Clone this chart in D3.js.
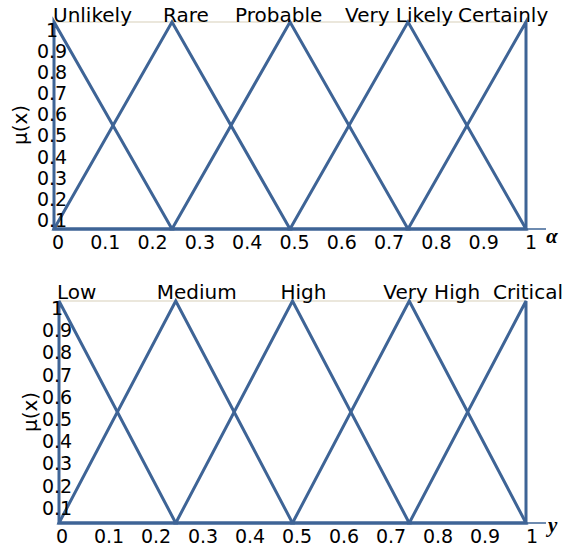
<!DOCTYPE html>
<html>
<head>
<meta charset="utf-8">
<script src="https://cdn.jsdelivr.net/npm/d3@7"></script>
<style>
  html, body { margin: 0; padding: 0; background: #fff; }
  svg { display: block; }
  text { font-family: "DejaVu Sans", sans-serif; fill: #000; }
</style>
</head>
<body>
<svg id="chart" width="566" height="546"></svg>
<script>
// Membership grades and tick labels
const xTicks = [0, 0.1, 0.2, 0.3, 0.4, 0.5, 0.6, 0.7, 0.8, 0.9, 1];
const yTicks = [0.1, 0.2, 0.3, 0.4, 0.5, 0.6, 0.7, 0.8, 0.9, 1];

// Linguistic terms for the likelihood variable (alpha)
const alphaTerms = ["Unlikely", "Rare", "Probable", "Very Likely", "Certainly"];
// Linguistic terms for the severity variable (y)
const severityTerms = ["Low", "Medium", "High", "Very High", "Critical"];

// Triangular membership functions: [left foot, peak, right foot]
const alphaSets = [[0, 0, 0.25], [0, 0.25, 0.5], [0.25, 0.5, 0.75], [0.5, 0.75, 1], [0.75, 1, 1]];
const severitySets = [[0, 0, 0.25], [0, 0.25, 0.5], [0.25, 0.5, 0.75], [0.5, 0.75, 1], [0.75, 1, 1]];

const svg = d3.select("#chart");
const LINE = "#3e6496";

function drawPanel(cfg) {
  const g = svg.append("g");
  const x = d3.scaleLinear().domain([0, 1]).range(cfg.xRange);
  const y = d3.scaleLinear().domain([0, 1]).range(cfg.yRange);
  const xLab = d3.scaleLinear().domain([0, 1]).range(cfg.xLabRange);
  const yLab = d3.scaleLinear().domain([0.1, 1]).range(cfg.yLabRange);

  // top grid line at full membership
  g.append("line")
    .attr("x1", x(0)).attr("x2", x(1))
    .attr("y1", y(1)).attr("y2", y(1))
    .attr("stroke", "#ebe7dc").attr("stroke-width", 2);

  // thin horizontal axis line
  g.append("line")
    .attr("x1", x(0)).attr("x2", cfg.axisEnd)
    .attr("y1", y(0)).attr("y2", y(0))
    .attr("stroke", LINE).attr("stroke-width", 1.5);

  // triangles
  const line = d3.line().x(d => x(d[0])).y(d => y(d[1]));
  g.selectAll("path.mf")
    .data(cfg.sets)
    .join("path")
    .attr("class", "mf")
    .attr("d", s => line([[s[0], 0], [s[1], 1], [s[2], 0]]) + "Z")
    .attr("fill", "none")
    .attr("stroke", LINE)
    .attr("stroke-width", 3)
    .attr("stroke-linejoin", "miter");

  // term names above each peak
  g.selectAll("text.term")
    .data(cfg.terms)
    .join("text")
    .attr("class", "term")
    .attr("x", (t, i) => x(cfg.sets[i][1]) + cfg.termDx[i])
    .attr("y", cfg.termY)
    .attr("font-size", 20)
    .text(t => t);

  // x tick labels
  g.selectAll("text.xt")
    .data(xTicks)
    .join("text")
    .attr("class", "xt")
    .attr("x", d => xLab(d))
    .attr("y", cfg.xLabY)
    .attr("text-anchor", "middle")
    .attr("font-size", 19)
    .text(d => d3.format("~g")(d));

  // y tick labels
  g.selectAll("text.yt")
    .data(yTicks)
    .join("text")
    .attr("class", "yt")
    .attr("x", cfg.yLabX)
    .attr("y", d => yLab(d))
    .attr("dy", "0.36em")
    .attr("text-anchor", "middle")
    .attr("font-size", 19)
    .text(d => d3.format("~g")(d));

  // y axis title
  g.append("text")
    .attr("transform", `translate(${cfg.yTitle[0]},${cfg.yTitle[1]}) rotate(-90)`)
    .attr("text-anchor", "middle")
    .attr("dy", "0.35em")
    .attr("font-size", 20)
    .text("μ(x)");

  // x axis variable name
  g.append("text")
    .attr("x", cfg.varPos[0]).attr("y", cfg.varPos[1])
    .style("font-family", "'Liberation Serif', serif")
    .attr("font-style", "italic")
    .attr("font-weight", "bold")
    .attr("font-size", 21)
    .text(cfg.varName);
}

drawPanel({
  sets: alphaSets,
  terms: alphaTerms,
  xRange: [54, 526], yRange: [229, 22],
  xLabRange: [58, 531], yLabRange: [220, 30],
  axisEnd: 546,
  termDx: [-1, -9, -55, -63, -68], termY: 22,
  xLabY: 249, yLabX: 52,
  yTitle: [20, 125],
  varPos: [546, 243], varName: "α"
});

drawPanel({
  sets: severitySets,
  terms: severityTerms,
  xRange: [59, 526], yRange: [523, 301],
  xLabRange: [62, 532], yLabRange: [508, 308],
  axisEnd: 546,
  termDx: [-2, -19, -12, -26, -33], termY: 299,
  xLabY: 543, yLabX: 57,
  yTitle: [30, 412],
  varPos: [548, 532], varName: "y"
});
</script>
</body>
</html>
